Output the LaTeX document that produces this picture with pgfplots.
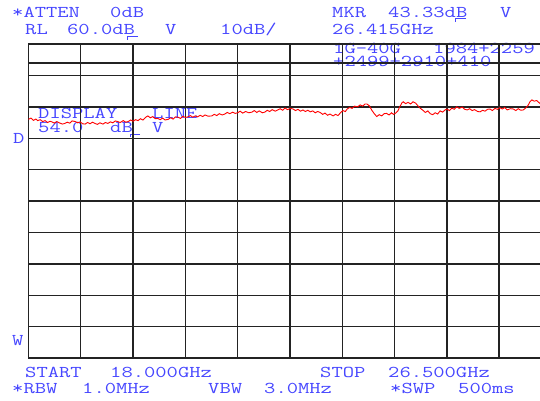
\documentclass[border=0pt]{standalone}
\usepackage{fontspec}
\usepackage{pgfplots}
\pgfplotsset{compat=1.18}
\newfontfamily\scr[FakeStretch=1.33]{Latin Modern Mono}
\definecolor{lbl}{RGB}{70,70,255}
\definecolor{gridc}{RGB}{35,35,35}
\definecolor{trace}{RGB}{255,0,0}

\begin{document}
\begin{tikzpicture}[x=1pt,y=1pt,
  t/.style={anchor=base west,inner sep=0pt,text=lbl,font=\scr\fontsize{16.5}{16.5}\selectfont}]
\path[use as bounding box] (0,0) rectangle (540,400);

% screen annotations (pixel positions, y from the top)
\node[t] at (12,382) {*ATTEN};
\node[t] at (110,382) {0dB};
\node[t] at (25,365) {RL};
\node[t] at (67,365) {60.0dB};
\node[t] at (165,365) {V};
\node[t] at (220,365) {10dB/};
\node[t] at (332,382) {MKR};
\node[t] at (388,382) {43.33dB};
\node[t] at (500,382) {V};
\node[t] at (332,365) {26.415GHz};
\node[t] at (333,347) {1G-40G};
\node[t] at (433,347) {1984+2259};
\node[t] at (333,334) {+2499+2910+410};
\node[t] at (38,282) {DISPLAY};
\node[t] at (152,282) {LINE};
\node[t] at (38,268) {54.0};
\node[t] at (110,268) {dB};
\node[t] at (152,268) {V};
\node[t] at (13,257) {D};
\node[t] at (12,55) {W};
\node[t] at (25,23) {START};
\node[t] at (110,23) {18.000GHz};
\node[t] at (320,23) {STOP};
\node[t] at (388,23) {26.500GHz};
\node[t] at (12,7) {*RBW};
\node[t] at (82,7) {1.0MHz};
\node[t] at (208,7) {VBW};
\node[t] at (264,7) {3.0MHz};
\node[t] at (390,7) {*SWP};
\node[t] at (458,7) {500ms};
\draw[lbl,line width=1pt] (138,363) -- (127,363) -- (127,360);
\draw[lbl,line width=1pt] (466,381) -- (455,381) -- (455,378);
\draw[lbl,line width=1pt] (140,266) -- (130,266) -- (130,263);

\begin{axis}[
    at={(28.5pt,42pt)}, anchor=south west,
    scale only axis,
    width=523pt, height=314pt,
    xmin=18, xmax=26.5,
    ymin=-40, ymax=60,
    xtick={18.85,19.7,20.55,21.4,22.25,23.1,23.95,24.8,25.65},
    ytick={-30,-20,-10,0,10,20,30,40,50},
    xticklabels={}, yticklabels={},
    major tick length=0pt,
    grid=major,
    grid style={gridc, line width=1.4pt},
    axis line style={gridc, line width=1.4pt},
]
% display line, 54 dB
\addplot[gridc, line width=1.4pt] coordinates {(18,54) (26.5,54)};

\addplot[trace, line width=0.9pt] coordinates {
(18.00,36.0)(18.04,36.4)(18.08,35.7)(18.12,36.1)(18.15,35.6)(18.19,35.9)
(18.23,35.3)(18.27,35.6)(18.31,35.0)(18.35,35.4)(18.38,35.2)(18.42,34.8)
(18.46,35.3)(18.50,34.9)(18.55,34.5)(18.59,34.7)(18.63,35.1)(18.67,34.8)
(18.71,35.5)(18.76,35.3)(18.80,34.9)(18.84,35.2)(18.88,34.6)(18.92,34.5)
(18.96,35.0)(19.00,34.6)(19.04,35.1)(19.08,34.7)(19.12,34.4)(19.16,34.9)
(19.21,34.5)(19.25,35.0)(19.29,34.7)(19.33,35.2)(19.37,34.9)(19.41,35.5)
(19.45,35.3)(19.49,35.0)(19.54,35.6)(19.58,35.1)(19.62,35.3)(19.66,35.8)
(19.70,35.4)(19.74,35.9)(19.78,35.6)(19.82,36.2)(19.86,35.8)(19.90,36.6)
(19.94,37.1)(19.98,36.5)(20.02,36.9)(20.06,36.2)(20.10,36.3)(20.14,35.9)
(20.18,36.4)(20.22,35.8)(20.27,36.0)(20.31,36.5)(20.35,36.1)(20.39,36.8)
(20.43,36.7)(20.47,36.3)(20.51,37.0)(20.55,36.6)(20.59,36.8)(20.63,37.2)
(20.67,36.7)(20.71,37.1)(20.75,36.8)(20.79,37.3)(20.83,36.9)(20.87,37.4)
(20.92,37.0)(20.98,37.1)(21.02,37.6)(21.06,37.2)(21.10,37.8)(21.15,37.4)
(21.19,37.7)(21.23,38.2)(21.27,37.8)(21.32,38.3)(21.36,37.9)(21.40,38.1)
(21.44,38.6)(21.48,38.0)(21.53,38.5)(21.58,38.1)(21.63,38.3)(21.67,38.8)
(21.71,38.2)(21.75,38.7)(21.80,38.1)(21.84,38.3)(21.88,38.9)(21.92,38.5)
(21.96,39.1)(22.01,38.6)(22.05,39.0)(22.09,39.4)(22.13,38.9)(22.17,39.6)
(22.21,39.1)(22.25,39.5)(22.30,39.3)(22.34,38.8)(22.38,39.2)(22.42,38.6)
(22.46,39.0)(22.50,38.5)(22.54,38.9)(22.58,38.4)(22.62,38.7)(22.66,38.1)
(22.70,38.5)(22.74,38.2)(22.78,37.6)(22.82,38.0)(22.86,37.3)(22.90,37.7)
(22.95,37.1)(22.99,37.6)(23.03,37.2)(23.07,38.1)(23.11,38.8)(23.15,38.5)
(23.18,39.3)(23.22,39.8)(23.26,39.5)(23.30,40.2)(23.35,40.0)(23.39,40.6)
(23.43,40.2)(23.47,40.9)(23.50,40.9)(23.54,40.3)(23.58,38.9)(23.62,37.8)
(23.66,36.9)(23.70,37.5)(23.74,37.1)(23.78,37.8)(23.82,37.9)(23.86,37.4)
(23.90,38.1)(23.93,37.6)(23.96,37.9)(24.00,38.6)(24.04,40.2)(24.07,41.3)
(24.09,41.6)(24.13,41.0)(24.17,41.4)(24.21,40.9)(24.25,41.6)(24.29,41.2)
(24.33,40.3)(24.37,39.5)(24.41,38.9)(24.45,38.2)(24.49,38.7)(24.53,37.8)
(24.57,37.5)(24.61,38.1)(24.65,37.7)(24.69,38.7)(24.73,38.3)(24.77,39.0)
(24.80,39.3)(24.84,38.8)(24.88,39.6)(24.92,39.2)(24.96,40.0)(25.00,39.5)
(25.05,39.9)(25.09,39.2)(25.13,39.0)(25.17,39.4)(25.21,38.8)(25.25,39.1)
(25.30,38.5)(25.34,38.4)(25.38,38.9)(25.42,38.6)(25.46,39.2)(25.50,39.3)
(25.54,38.8)(25.58,39.5)(25.62,39.2)(25.66,39.7)(25.70,39.3)(25.74,39.8)
(25.78,39.0)(25.83,39.4)(25.88,39.3)(25.92,38.8)(25.96,39.4)(26.00,38.9)
(26.04,39.0)(26.08,39.6)(26.12,40.5)(26.15,41.6)(26.18,42.2)(26.22,41.8)
(26.26,42.0)(26.31,41.1)(26.35,41.5)(26.40,41.0)(26.45,41.3)(26.50,40.9)
};
\end{axis}
\end{tikzpicture}
\end{document}
